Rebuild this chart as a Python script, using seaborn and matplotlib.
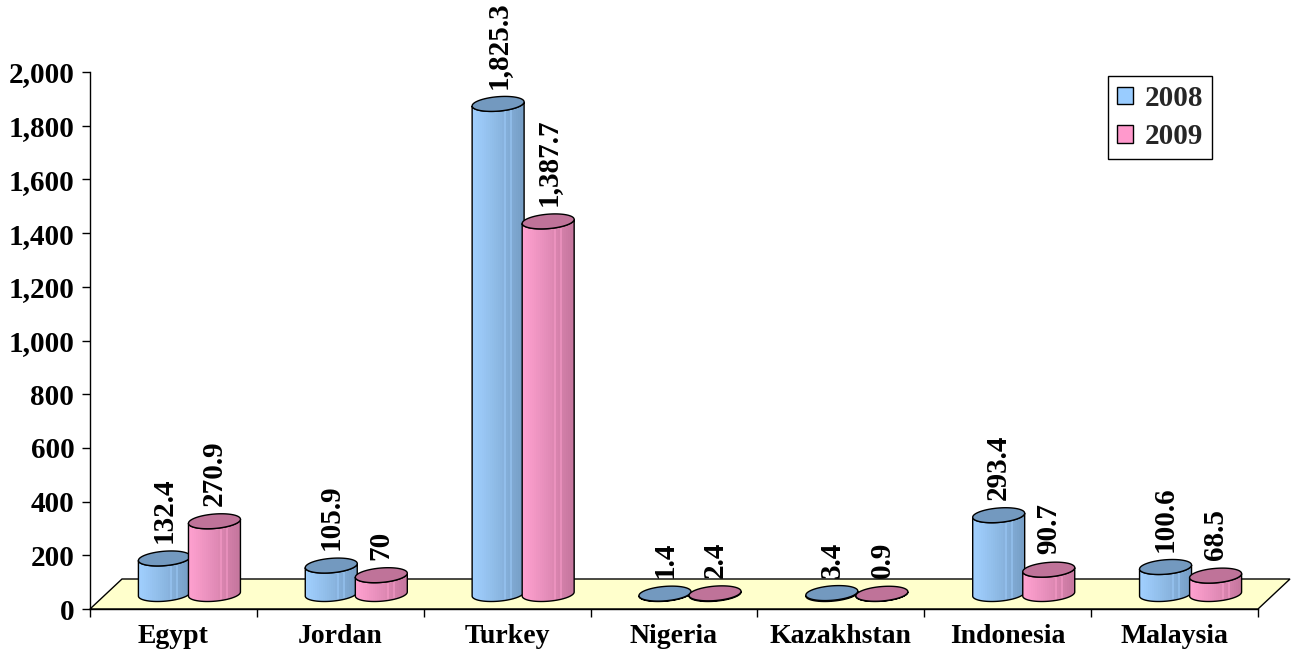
import numpy as np
import pandas as pd
import matplotlib
matplotlib.use("Agg")
import matplotlib.pyplot as plt
import seaborn as sns
from matplotlib.patches import Polygon, Patch
from matplotlib.ticker import FixedLocator

# ---- data -------------------------------------------------------------
countries = ["Egypt", "Jordan", "Turkey", "Nigeria", "Kazakhstan", "Indonesia", "Malaysia"]
years = ["2008", "2009"]
values_2008 = [132.4, 105.9, 1825.3, 1.4, 3.4, 293.4, 100.6]
values_2009 = [270.9, 70, 1387.7, 2.4, 0.9, 90.7, 68.5]
y_ticks = [0, 200, 400, 600, 800, 1000, 1200, 1400, 1600, 1800, 2000]
year_colors = ["#99CCFF", "#FF99CC"]

df = pd.DataFrame({
    "country": countries * 2,
    "year": [years[0]] * len(countries) + [years[1]] * len(countries),
    "value": values_2008 + values_2009,
})

# ---- style ------------------------------------------------------------
sns.set_theme(style="white")
plt.rcParams["font.family"] = ["Liberation Serif", "DejaVu Serif"]
plt.rcParams["font.weight"] = "bold"
FS = 21        # value labels, y ticks, legend
FS_X = 20      # category labels

W_PX, H_PX = 1297, 651
fig = plt.figure(figsize=(W_PX / 100, H_PX / 100), dpi=100)
fig.patch.set_facecolor("white")
L, R, B, T = 90, 1258, 609, 72  # plot frame in pixels
ax = fig.add_axes([L / W_PX, 1 - B / H_PX, (R - L) / W_PX, (B - T) / H_PX])
ax.set_facecolor("none")

palette = dict(zip(years, year_colors))
sns.barplot(data=df, x="country", y="value", hue="year", palette=palette,
            width=0.6, saturation=1, legend=False, ax=ax)

# the bar rectangles drawn by seaborn, left to right
bars = sorted([p for c in ax.containers for p in c], key=lambda p: p.get_x())

n = len(countries)
xmin, xmax = -0.5, n - 0.5
ymax = y_ticks[-1]
kx = (R - L) / (xmax - xmin)   # pixels per x unit
ky = (B - T) / ymax            # pixels per y unit

# oblique depth of the floor (pixels) and the offset of the bar row
FLOOR_DX, FLOOR_DY = 32, 30
ddx, ddy = (FLOOR_DX / 2) / kx, (FLOOR_DY / 2) / ky
ELL_S, ELL_A = 7.5, 7.0        # ellipse half height / shear (pixels)

# floor
floor = Polygon([(xmin, 0), (xmax, 0),
                 (xmax + FLOOR_DX / kx, FLOOR_DY / ky),
                 (xmin + FLOOR_DX / kx, FLOOR_DY / ky)],
                closed=True, facecolor="#FFFFCC", edgecolor="black",
                linewidth=1.0, clip_on=False, zorder=1)
ax.add_patch(floor)


def shade_strip(base_rgb, ncols=26):
    """Horizontal strip of colours giving the cylinder its rounded look."""
    base = np.array(base_rgb[:3])
    light = base * 0.92 + 0.08
    dark = base * 0.78
    t = (np.arange(ncols) + 0.5) / ncols
    f = np.clip(t ** 1.1 * 1.05, 0, 1)
    for lo, hi in [(0.62, 0.66), (0.74, 0.77), (0.84, 0.86)]:
        f[(t >= lo) & (t <= hi)] *= 0.55
    cols = light[None, :] * (1 - f[:, None]) + dark[None, :] * f[:, None]
    return cols[None, :, :]


for i, p in enumerate(bars):
    x0, w, h = p.get_x(), p.get_width(), p.get_height()
    rgb = p.get_facecolor()
    p.set_visible(False)

    cx = x0 + w / 2 + ddx
    y_base = ddy
    y_top = h + ddy
    r = w / 2
    a = ELL_A / kx
    s = ELL_S / ky
    th0 = np.arctan2(ELL_A, r * kx)
    r_ext = np.hypot(r * kx, ELL_A) / kx

    def ell(yc, th):
        return np.column_stack([cx + r * np.cos(th) + a * np.sin(th), yc + s * np.sin(th)])

    z = 3 + i
    body_pts = np.vstack([ell(y_base, np.linspace(th0, th0 - np.pi, 60)),
                          ell(y_top, np.linspace(th0 - np.pi, th0, 60))])
    body = Polygon(body_pts, closed=True, facecolor=np.array(rgb[:3]) * 0.8,
                   edgecolor="none", zorder=z, clip_on=False)
    ax.add_patch(body)
    im = ax.imshow(shade_strip(rgb), extent=[cx - r_ext, cx + r_ext, y_base - s, y_top + s],
                   aspect="auto", origin="lower", interpolation="nearest",
                   zorder=z + 0.1)
    im.set_clip_path(body)
    ax.add_patch(Polygon(body_pts, closed=True, fill=False, edgecolor="black",
                         linewidth=1.0, zorder=z + 0.2, clip_on=False))
    top = Polygon(ell(y_top, np.linspace(0, 2 * np.pi, 90)), closed=True,
                  facecolor=np.array(rgb[:3]) * 0.75, edgecolor="black",
                  linewidth=1.0, zorder=z + 0.3, clip_on=False)
    ax.add_patch(top)

    ax.annotate(f"{h:,g}", xy=(cx, y_top), xytext=(0, 11), textcoords="offset points",
                rotation=90, ha="center", va="bottom", fontsize=FS,
                fontweight="bold", color="black", zorder=40, annotation_clip=False)

# ---- axes -------------------------------------------------------------
ax.set_xlim(xmin, xmax)
ax.set_ylim(0, ymax)
ax.set_yticks(y_ticks)
ax.set_yticklabels([f"{v:,}" for v in y_ticks])
ax.xaxis.set_minor_locator(FixedLocator(np.arange(xmin, xmax + 0.01, 1.0)))
ax.set_xlabel("")
ax.set_ylabel("")

for side in ["top", "right"]:
    ax.spines[side].set_visible(False)
for side in ["left", "bottom"]:
    ax.spines[side].set_color("black")
    ax.spines[side].set_linewidth(1.0)
    ax.spines[side].set_zorder(2)

ax.tick_params(axis="y", which="major", left=True, direction="out", length=5.8,
               width=1.0, color="black", pad=5.5, labelsize=FS, labelcolor="black")
ax.tick_params(axis="x", which="major", bottom=True, length=0, pad=11,
               labelsize=FS_X, labelcolor="black")
ax.tick_params(axis="x", which="minor", bottom=True, direction="out", length=5.8,
               width=1.0, color="black")
for lab in ax.get_xticklabels() + ax.get_yticklabels():
    lab.set_fontweight("bold")

# ---- legend -----------------------------------------------------------
handles = [Patch(facecolor=c, edgecolor="black", linewidth=1.0, label=y)
           for y, c in zip(years, year_colors)]
leg = ax.legend(handles=handles, loc="upper left",
                bbox_to_anchor=(1108 / W_PX, 1 - 76 / H_PX), bbox_transform=fig.transFigure,
                borderaxespad=0, frameon=True, fancybox=False, shadow=False,
                framealpha=1, edgecolor="black", handlelength=0.55, handleheight=0.55,
                handletextpad=0.4, labelspacing=0.4, borderpad=0.3,
                prop={"family": "Liberation Serif", "weight": "bold", "size": FS})
leg.get_frame().set_linewidth(1.0)
leg.set_zorder(50)

fig.savefig("out.png", dpi=100, facecolor="white")
